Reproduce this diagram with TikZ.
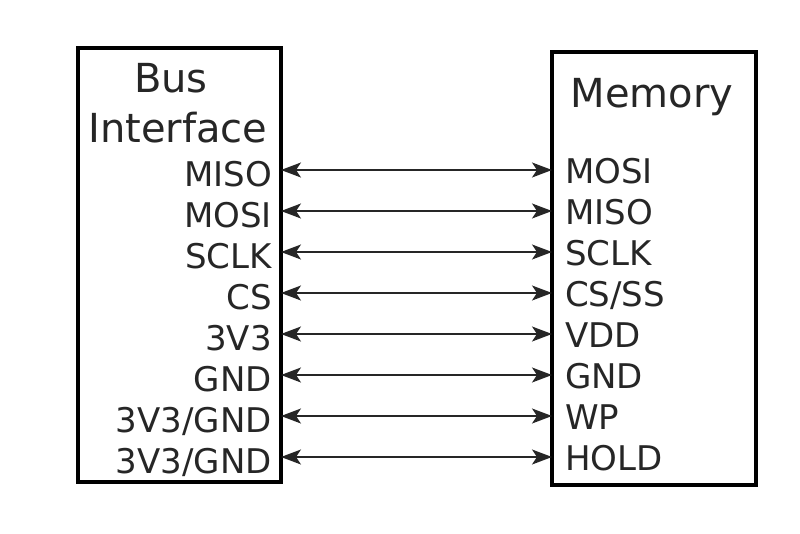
\documentclass[tikz,border=0pt]{standalone}
\usepackage{fontspec}
\setmainfont{DejaVu Sans}
\usetikzlibrary{arrows.meta}
\tikzset{
  blockbox/.style={draw, line width=4pt, inner sep=0pt, outer sep=0pt, anchor=north west},
  title/.style={font=\fontsize{40}{50}\selectfont, inner sep=0pt, anchor=base, text=black!85},
  pinl/.style={font=\fontsize{34}{40}\selectfont, inner sep=0pt, anchor=base east, text=black!85},
  pinr/.style={font=\fontsize{34}{40}\selectfont, inner sep=0pt, anchor=base west, text=black!85},
  link/.style={line width=1.5pt, black!85, {Stealth[length=20pt,width=15pt,inset=5pt]}-{Stealth[length=20pt,width=15pt,inset=5pt]}}
}
\begin{document}
\begin{tikzpicture}[x=1pt,y=-1pt]
\useasboundingbox[fill=white] (0,0) rectangle (800,533);
\node[blockbox, minimum width=203pt, minimum height=434pt] (L) at (78,48) {};
\node[blockbox, minimum width=204pt, minimum height=433pt] (R) at (552,52) {};
\node[title] (lt1) at (171,92) {Bus};
\node[title] (lt2) at (178,142) {Interface};
\node[title] (rt) at (652,107) {Memory};
\foreach \i/\a/\b in {0/MISO/MOSI,1/MOSI/MISO,2/SCLK/SCLK,3/CS/CS\slash SS,4/3V3/VDD,5/GND/GND,6/3V3\slash GND/WP,7/3V3\slash GND/HOLD}{
  \pgfmathsetmacro{\yy}{170+41*\i}
  \node[pinl] (pl\i) at (272,\yy+16) {\a};
  \node[pinr] (pr\i) at (565,\yy+13) {\b};
  \coordinate (cl\i) at (281,\yy);
  \coordinate (cr\i) at (552,\yy);
  \draw[link] (cl\i -| L.east) -- (cr\i -| R.west);
}
\end{tikzpicture}
\end{document}
